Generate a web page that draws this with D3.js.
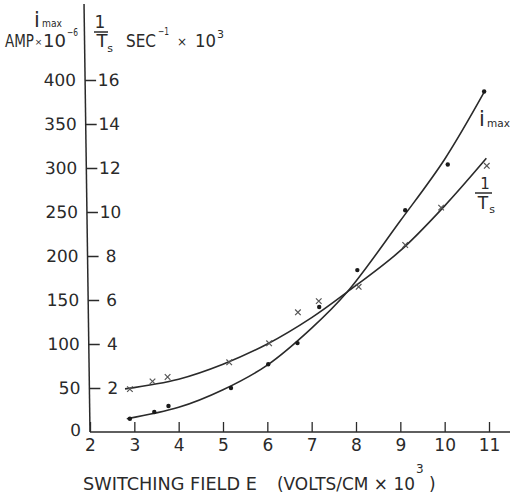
<!DOCTYPE html>
<html>
<head>
<meta charset="utf-8">
<script src="https://cdn.jsdelivr.net/npm/d3@7"></script>
<style>
  html, body { margin: 0; padding: 0; background: #fff; }
  svg { display: block; }
  text { font-family: "DejaVu Sans", sans-serif; fill: #2a2a2a; }
</style>
</head>
<body>
<script>
// ---- data ----
const xTicks = [2, 3, 4, 5, 6, 7, 8, 9, 10, 11];
const leftTicks = [0, 50, 100, 150, 200, 250, 300, 350, 400];
const rightTicks = [2, 4, 6, 8, 10, 12, 14, 16];

// i_max measured points (AMP x 10^-6, left scale)
const imaxField = [2.9, 3.45, 3.77, 5.18, 6.02, 6.68, 7.17, 8.03, 9.11, 10.07, 10.89];
const imaxValues = [15, 22.7, 29.5, 50, 77, 101, 142, 184, 252, 304, 387];

// 1/Ts measured points (SEC^-1 x 10^3, right scale)
const tsField = [2.9, 3.41, 3.75, 5.14, 6.04, 6.69, 7.16, 8.06, 9.11, 9.92, 10.95];
const tsValues = [1.95, 2.3, 2.5, 3.17, 4.03, 5.44, 5.95, 6.6, 8.5, 10.2, 12.1];

// hand-drawn fitted curves
const imaxCurveField = [2.83, 4, 5, 6, 7, 7.8, 9, 10, 10.9];
const imaxCurveValues = [15, 28, 48, 76, 118, 159, 240, 310, 387];
const tsCurveField = [2.79, 4, 5, 6, 7, 7.8, 9, 10, 10.94];
const tsCurveValues = [1.96, 2.4, 3.08, 4.0, 5.2, 6.36, 8.24, 10.28, 12.44];

// ---- layout ----
const W = 514, H = 496;
const svg = d3.select("body").append("svg").attr("width", W).attr("height", H);

const x = d3.scaleLinear().domain([2, 11]).range([90, 489]);
const yL = d3.scaleLinear().domain([0, 400]).range([432, 80]);
const yR = d3.scaleLinear().domain([0, 16]).range([432, 80]);

const ink = "#2a2a2a";

// x axis
const xAxis = svg.append("g").attr("transform", "translate(0,432)")
  .call(d3.axisBottom(x).tickValues(xTicks).tickSize(-10).tickPadding(7).tickFormat(d3.format("d")));
xAxis.select(".domain").remove();
xAxis.selectAll(".tick line").attr("stroke", ink).attr("stroke-width", 1.3);
xAxis.selectAll(".tick text").attr("font-size", 17).attr("font-family", "DejaVu Sans").attr("fill", ink);
xAxis.append("line").attr("x1", x(2)).attr("x2", 510).attr("y1", 0).attr("y2", 0)
  .attr("stroke", ink).attr("stroke-width", 1.5);

// y axes (slightly tilted like the original scan)
const yG = svg.append("g").attr("transform", "translate(90,432) skewX(0.8) translate(0,-432)");
const yAxisL = yG.append("g")
  .call(d3.axisLeft(yL).tickValues(leftTicks).tickSize(0).tickPadding(9).tickFormat(d3.format("d")));
yAxisL.select(".domain").remove();
yAxisL.selectAll(".tick text").attr("font-size", 17).attr("font-family", "DejaVu Sans").attr("fill", ink);
yAxisL.selectAll(".tick").filter(d => d === 0).select("text").attr("dy", "0.2em");

const yAxisR = yG.append("g")
  .call(d3.axisRight(yR).tickValues(rightTicks).tickSize(11).tickPadding(3).tickFormat(d3.format("d")));
yAxisR.select(".domain").remove();
yAxisR.selectAll(".tick line").attr("stroke", ink).attr("stroke-width", 1.3);
yAxisR.selectAll(".tick text").attr("font-size", 17).attr("font-family", "DejaVu Sans").attr("fill", ink)
  .attr("text-anchor", "middle").attr("x", 23.5);
yG.append("line").attr("x1", 0).attr("x2", 0).attr("y1", yL(0)).attr("y2", 4)
  .attr("stroke", ink).attr("stroke-width", 1.5);

// curves
const lineL = d3.line().x(d => x(d[0])).y(d => yL(d[1])).curve(d3.curveCatmullRom.alpha(0.5));
const lineR = d3.line().x(d => x(d[0])).y(d => yR(d[1])).curve(d3.curveCatmullRom.alpha(0.5));
svg.append("path").attr("d", lineL(d3.zip(imaxCurveField, imaxCurveValues)))
  .attr("fill", "none").attr("stroke", ink).attr("stroke-width", 1.6);
svg.append("path").attr("d", lineR(d3.zip(tsCurveField, tsCurveValues)))
  .attr("fill", "none").attr("stroke", ink).attr("stroke-width", 1.6);

// markers
svg.append("g").selectAll("circle").data(d3.zip(imaxField, imaxValues)).join("circle")
  .attr("cx", d => x(d[0])).attr("cy", d => yL(d[1])).attr("r", 2.2).attr("fill", "#1a1a1a");
svg.append("g").selectAll("path").data(d3.zip(tsField, tsValues)).join("path")
  .attr("d", d => {
    const cx = x(d[0]), cy = yR(d[1]), s = 2.8;
    return `M${cx - s},${cy - s}L${cx + s},${cy + s}M${cx - s},${cy + s}L${cx + s},${cy - s}`;
  })
  .attr("stroke", "#555").attr("stroke-width", 1.2).attr("fill", "none");

// ---- text labels (horizontally scaled to the widths in the original) ----
function label(str, px, py, size, opts = {}) {
  const t = svg.append("text").attr("font-size", size).text(str)
    .attr("text-anchor", opts.anchor || "start");
  let sx = 1;
  if (opts.len) sx = opts.len / t.node().getComputedTextLength();
  t.attr("transform", `translate(${px},${py}) scale(${sx},1)`);
  return t;
}

// left axis title: i_max  AMP x 10^-6
label("i", 37, 27, 21, { anchor: "middle" });
label("max", 42, 27, 10.5, { len: 20 });
label("AMP", 5, 47, 18, { len: 29 });
label("×", 38.5, 45, 9, { anchor: "middle" });
label("10", 43, 47, 18, { len: 23 });
label("−6", 67, 36, 10, { len: 11 });

// right axis title: 1/Ts SEC^-1 x 10^3
label("1", 100, 28, 17, { anchor: "middle" });
svg.append("line").attr("x1", 94).attr("x2", 108).attr("y1", 32).attr("y2", 32)
  .attr("stroke", ink).attr("stroke-width", 1.5);
label("T", 102, 47, 18, { anchor: "middle" });
label("s", 110, 52, 11, { anchor: "middle" });
label("SEC", 126, 47, 18, { len: 30 });
label("−1", 158, 35, 10, { len: 11 });
label("×", 182, 46, 12, { anchor: "middle" });
label("10", 195, 47, 18, { len: 21 });
label("3", 217, 38, 11);

// curve labels
label("i", 482, 126, 21, { anchor: "middle" });
label("max", 487, 127, 10.5, { len: 23 });
label("1", 485, 189, 15, { anchor: "middle" });
svg.append("line").attr("x1", 475).attr("x2", 492).attr("y1", 193).attr("y2", 193)
  .attr("stroke", ink).attr("stroke-width", 1.5);
label("T", 483, 209, 17, { anchor: "middle" });
label("s", 492, 213, 11, { anchor: "middle" });

// x axis title
label("SWITCHING  FIELD E", 83, 490, 17, { len: 174 });
label("(VOLTS/CM × 10", 277, 490, 17, { len: 138 });
label("3", 416, 473, 12);
label(")", 429, 490, 17);
</script>
</body>
</html>
